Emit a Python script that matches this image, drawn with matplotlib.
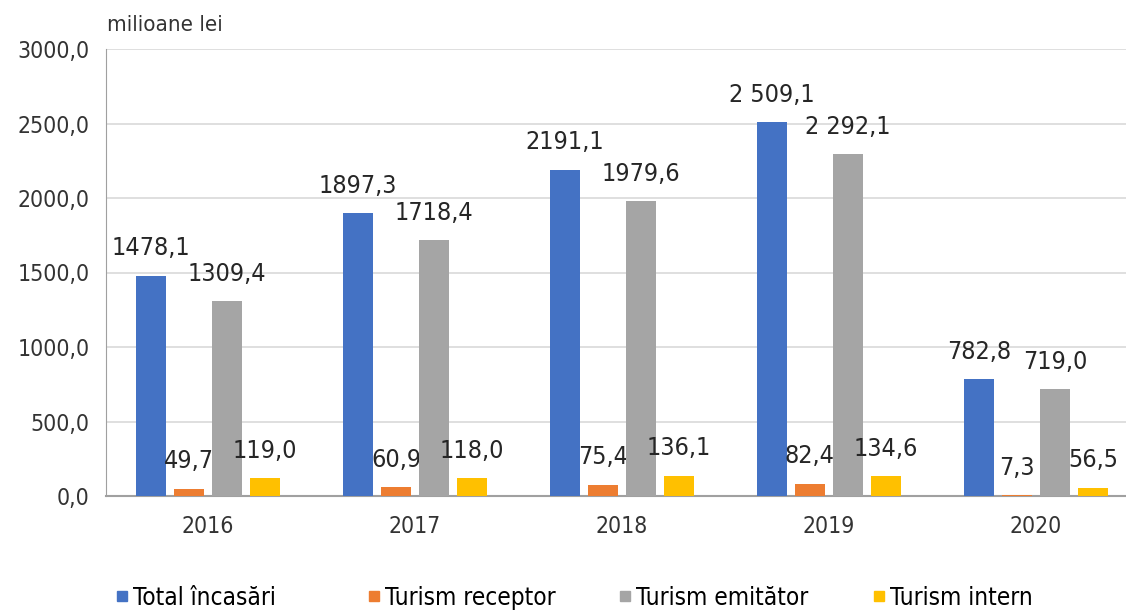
import numpy as np
import matplotlib
matplotlib.use("Agg")
import matplotlib.pyplot as plt
from matplotlib.lines import Line2D

years = ["2016", "2017", "2018", "2019", "2020"]
series_names = ["Total încasări", "Turism receptor", "Turism emitător", "Turism intern"]
total = [1478.1, 1897.3, 2191.1, 2509.1, 782.8]
receptor = [49.7, 60.9, 75.4, 82.4, 7.3]
emitator = [1309.4, 1718.4, 1979.6, 2292.1, 719.0]
intern = [119.0, 118.0, 136.1, 134.6, 56.5]
total_labels = ["1478,1", "1897,3", "2191,1", "2 509,1", "782,8"]
receptor_labels = ["49,7", "60,9", "75,4", "82,4", "7,3"]
emitator_labels = ["1309,4", "1718,4", "1979,6", "2 292,1", "719,0"]
intern_labels = ["119,0", "118,0", "136,1", "134,6", "56,5"]
yticks = [0, 500, 1000, 1500, 2000, 2500, 3000]

colors = ["#4472C4", "#ED7D31", "#A5A5A5", "#FFC000"]
plt.rcParams["font.family"] = ["DejaVu Sans"]
plt.rcParams["font.stretch"] = "condensed"

fig = plt.figure(figsize=(11.26, 6.12), dpi=100)
ax = fig.add_axes([106 / 1126, 116 / 612, 1 - 106 / 1126, (496 - 49) / 612])

x = np.arange(len(years))
width = 0.146
step = 0.184
all_vals = [total, receptor, emitator, intern]
all_labels = [total_labels, receptor_labels, emitator_labels, intern_labels]
for i, (vals, labs) in enumerate(zip(all_vals, all_labels)):
    pos = x + (i - 1.5) * step
    ax.bar(pos, vals, width, color=colors[i], zorder=3)
    for px, v, t in zip(pos, vals, labs):
        ax.annotate(t, (px, v), xytext=(0, 11), textcoords="offset points",
                    ha="center", va="bottom", fontsize=18, color="#262626")

ax.set_xlim(-0.493, 4.435)
ax.set_ylim(0, 3000)
ax.set_yticks(yticks)
ax.set_yticklabels([f"{v:.1f}".replace(".", ",") for v in yticks], fontsize=16.5, color="#333333")
ax.set_xticks(x)
ax.set_xticklabels(years, fontsize=16.5, color="#333333")
ax.tick_params(length=0, pad=12)
ax.tick_params(axis="x", pad=14)
ax.grid(axis="y", color="#d9d9d9", linewidth=1.2, zorder=0)
for s in ["top", "right"]:
    ax.spines[s].set_visible(False)
ax.spines["left"].set_color("#a0a0a0")
ax.spines["bottom"].set_color("#a0a0a0")
ax.spines["bottom"].set_linewidth(1.5)

fig.text(107 / 1126, 1 - 25 / 612, "milioane lei", fontsize=16, color="#333333", va="center")

legend_x = [112, 364, 615, 869]
for c, name, lx in zip(colors, series_names, legend_x):
    h = Line2D([], [], marker="s", linestyle="", color=c, markersize=7)
    fig.legend([h], [name], loc="center left", bbox_to_anchor=(lx / 1126, 1 - 598 / 612),
               frameon=False, fontsize=17.5, handletextpad=0.05, handlelength=0.8,
               borderpad=0, borderaxespad=0)

fig.savefig("out.png", dpi=100)
